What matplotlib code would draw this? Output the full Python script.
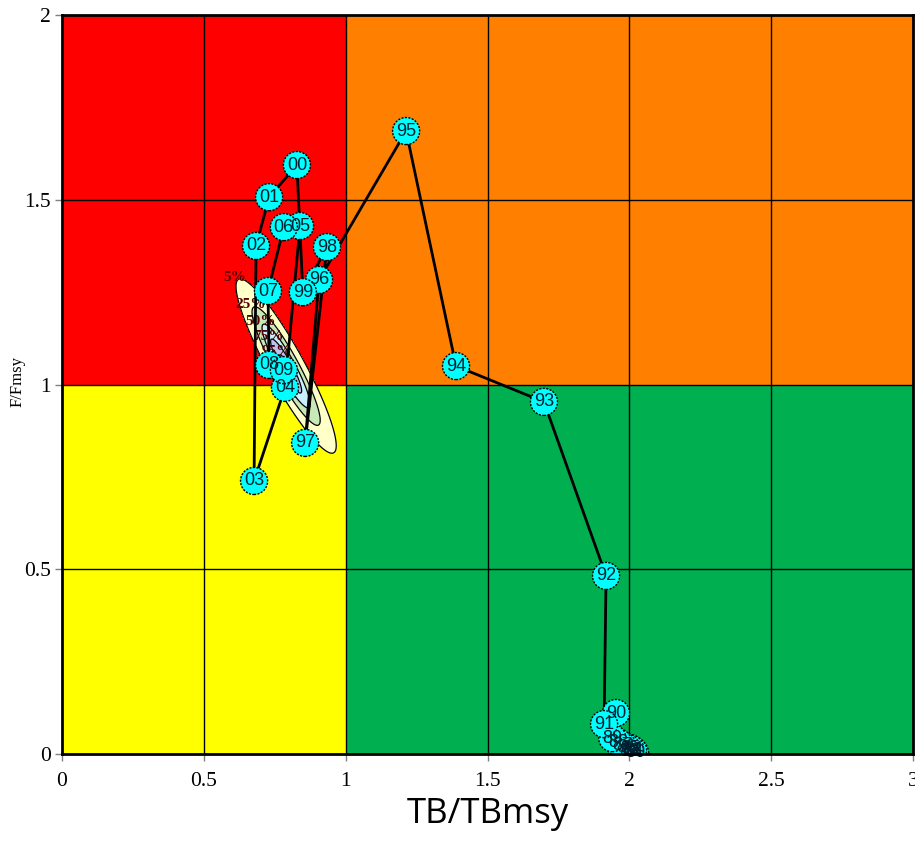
import numpy as np
import matplotlib
matplotlib.use("Agg")
import matplotlib.pyplot as plt
from matplotlib.patches import Rectangle

# Stock trajectory: year, biomass ratio TB/TBmsy, fishing ratio F/Fmsy
years = list(range(1980, 2010))
tb_ratio = [2.02, 2.01, 2.00, 2.01, 2.013, 2.002, 1.988, 1.974, 1.960, 1.940,
            1.953, 1.911, 1.918, 1.699, 1.389, 1.213, 0.906, 0.857, 0.934, 0.849,
            0.828, 0.730, 0.684, 0.677, 0.786, 0.839, 0.782, 0.726, 0.730, 0.782]
f_ratio = [0.004, 0.006, 0.008, 0.009, 0.011, 0.016, 0.019, 0.024, 0.032, 0.043,
           0.111, 0.081, 0.482, 0.953, 1.050, 1.686, 1.283, 0.842, 1.372, 1.250,
           1.594, 1.507, 1.375, 0.739, 0.991, 1.429, 1.426, 1.253, 1.053, 1.039]

# Uncertainty of the final-year status: centre, spread along / across the main axis
unc_center = (0.79, 1.05)
unc_direction = (0.589, -0.808)
unc_sd_along = 0.118
unc_sd_across = 0.024
contour_labels = ["5%", "25%", "50%", "75%", "95%"]
contour_colors = ["#FFFFC8", "#C8E8B8", "#C8F0FF", "#C0C0F0", "#A8A8E8"]

fig = plt.figure(figsize=(9.15, 8.44), dpi=100)
ax = fig.add_axes([0.0678, 0.1066, 0.930, 0.8756])
ax.set_xlim(0, 3)
ax.set_ylim(0, 2)

# Kobe quadrants
ax.add_patch(Rectangle((0, 1), 1, 1, facecolor="#FF0000", edgecolor="none", zorder=0))
ax.add_patch(Rectangle((1, 1), 2, 1, facecolor="#FF8000", edgecolor="none", zorder=0))
ax.add_patch(Rectangle((0, 0), 1, 1, facecolor="#FFFF00", edgecolor="none", zorder=0))
ax.add_patch(Rectangle((1, 0), 2, 1, facecolor="#00B050", edgecolor="none", zorder=0))

ticks_x = np.arange(0, 3.01, 0.5)
ticks_y = np.arange(0, 2.01, 0.5)
for t in ticks_x[1:-1]:
    ax.axvline(t, color="black", lw=1.0, zorder=1)
for t in ticks_y[1:-1]:
    ax.axhline(t, color="black", lw=1.0, zorder=1)

# Density surface for the final-year status
gx, gy = np.meshgrid(np.linspace(0.4, 1.2, 400), np.linspace(0.6, 1.5, 400))
dx, dy = gx - unc_center[0], gy - unc_center[1]
ux, uy = unc_direction
u = dx * ux + dy * uy
v = -dx * uy + dy * ux
r2 = (u / unc_sd_along) ** 2 + (v / unc_sd_across) ** 2
probs_outside = [0.05, 0.25, 0.50, 0.75, 0.95]
r2_levels = [-2 * np.log(p) for p in probs_outside]   # radius enclosing 1-p
levels = sorted(r2_levels)
fill_levels = [0] + levels
fill_colors = list(reversed(contour_colors))
ax.contourf(gx, gy, r2, levels=fill_levels, colors=fill_colors, zorder=2)
ax.contour(gx, gy, r2, levels=levels, colors="black", linewidths=0.9, zorder=2)
for lab, rl in zip(contour_labels, r2_levels):
    tip = -np.sqrt(rl) * unc_sd_along
    px = unc_center[0] + tip * ux
    py = unc_center[1] + tip * uy
    ax.text(px - 0.01, py - 0.01, lab, fontsize=11, color="#500000", ha="center",
            va="bottom", family="Liberation Serif", fontweight="bold", zorder=2.5)

# Trajectory
ax.plot(tb_ratio, f_ratio, color="black", lw=2, zorder=3)
ax.scatter(tb_ratio, f_ratio, s=19.5 ** 2, facecolor="#00FFFF", edgecolor="black",
           linewidths=1.0, linestyle=(0, (1.5, 1)), zorder=4)
for yr, x, y in zip(years, tb_ratio, f_ratio):
    ax.text(x, y, f"{yr % 100:02d}", fontsize=13, color="#002030", ha="center",
            va="center", family="Liberation Sans", zorder=5)

for s in ax.spines.values():
    s.set_linewidth(2)
    s.set_zorder(6)
ax.set_xticks(ticks_x)
ax.set_yticks(ticks_y)
ax.set_xticklabels(["0", "0.5", "1", "1.5", "2", "2.5", "3"])
ax.set_yticklabels(["0", "0.5", "1", "1.5", "2"])
ax.tick_params(direction="out", length=5, width=1, color="#808080",
               labelsize=15.5, pad=8)
for lbl in ax.get_xticklabels() + ax.get_yticklabels():
    lbl.set_family("Liberation Serif")
ax.tick_params(axis="y", pad=3)

fig.text(0.019, 0.548, "F/Fmsy", family="Liberation Serif", fontsize=12,
         rotation=90, ha="center", va="center")
fig.text(0.533, 0.015, "TB/TBmsy", family="Open Sans", fontsize=25, ha="center", va="bottom")

fig.savefig("out.png", dpi=100)
